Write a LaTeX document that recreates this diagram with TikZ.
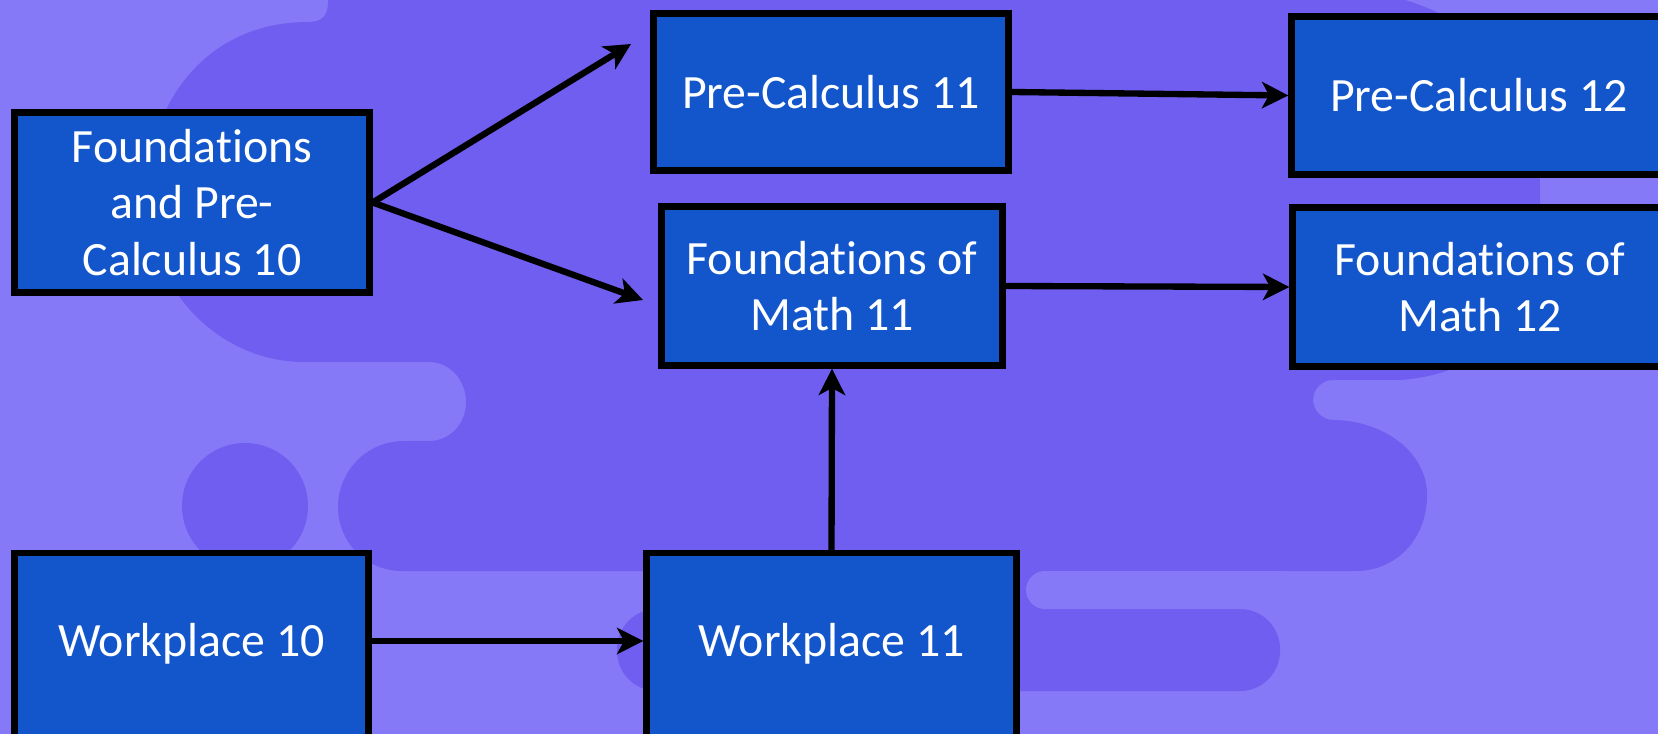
\documentclass[tikz,border=0pt]{standalone}
\usepackage{fontspec}
\setmainfont{Carlito}[Ligatures=NoCommon]
\usepackage{tikz}
\usetikzlibrary{arrows.meta}
\definecolor{bglite}{HTML}{8579F7}
\definecolor{bgdark}{HTML}{6F5EF0}
\definecolor{coursebox}{HTML}{1356CC}

\begin{document}
\begin{tikzpicture}[
  course/.style={draw=black, line width=1.8pt, fill=coursebox, text=white, align=center,
                 inner sep=0pt, font=\fontsize{13.6}{16}\selectfont},
  lowtext/.style={text depth=0.3cm},
  link/.style={-{Stealth[length=7.5pt,width=7.5pt,inset=2pt]}, line width=1.8pt}]
\useasboundingbox (0,0) rectangle (16.58,-7.34);
\clip (0,0) rectangle (16.58,-7.34);
\fill[bglite] (0,0) rectangle (16.58,-7.34);
\fill[bgdark] (3.28,0.1) -- (3.28,-0.02) .. controls (3.28,-0.16) and (3.22,-0.22) .. (3.08,-0.22)
  .. controls (2.05,-0.22) and (1.47,-1.05) .. (1.47,-1.95)
  .. controls (1.47,-2.9) and (2.2,-3.62) .. (3.04,-3.62) -- (4.29,-3.62)
  .. controls (4.5,-3.62) and (4.66,-3.8) .. (4.66,-4.02)
  .. controls (4.66,-4.24) and (4.5,-4.41) .. (4.29,-4.41) -- (4.04,-4.41)
  .. controls (3.66,-4.41) and (3.38,-4.72) .. (3.38,-5.07)
  .. controls (3.38,-5.42) and (3.66,-5.71) .. (4.02,-5.71) -- (13.56,-5.71)
  .. controls (13.95,-5.71) and (14.27,-5.4) .. (14.27,-4.95)
  .. controls (14.27,-4.5) and (13.8,-4.2) .. (13.33,-4.2)
  .. controls (13.22,-4.2) and (13.13,-4.1) .. (13.13,-4.0)
  .. controls (13.13,-3.89) and (13.22,-3.8) .. (13.33,-3.8) -- (14.0,-3.8)
  .. controls (14.8,-3.75) and (15.4,-3.2) .. (15.4,-2.5) -- (15.4,-1.9)
  .. controls (15.4,-0.8) and (14.7,0.1) .. (13.3,0.1) -- cycle;
\fill[bgdark] (2.45,-5.06) circle (0.63);
\fill[bgdark, rounded corners=0.4cm] (6.17,-6.09) rectangle (12.8,-6.91);
\fill[bgdark] (6.43,-5.6) rectangle (10.45,-6.2);
\fill[bglite, rounded corners=0.19cm] (10.26,-5.71) rectangle (13.0,-6.09);
\node[course, minimum width=3.55cm, minimum height=1.80cm] (fp10) at (1.92,-2.025) {Foundations\\and Pre-\\Calculus 10};
\node[course, minimum width=3.55cm, minimum height=1.57cm] (pc11) at (8.31,-0.92) {Pre-Calculus 11};
\node[course, minimum width=3.41cm, minimum height=1.59cm] (fm11) at (8.32,-2.86) {Foundations of\\Math 11};
\node[course, minimum width=3.75cm, minimum height=1.58cm] (pc12) at (14.79,-0.955) {Pre-Calculus 12};
\node[course, minimum width=3.75cm, minimum height=1.59cm] (fm12) at (14.80,-2.87) {Foundations of\\Math 12};
\node[course, lowtext, minimum width=3.54cm, minimum height=2.04cm] (wp10) at (1.915,-6.55) {Workplace 10};
\node[course, lowtext, minimum width=3.70cm, minimum height=2.04cm] (wp11) at (8.315,-6.55) {Workplace 11};
\coordinate (pcin) at (6.31,-0.44);
\coordinate (fmin) at (6.43,-3.00);
\draw[link] (fp10.east) -- (pcin);
\draw[link] (fp10.east) -- (fmin);
\draw[link] (pc11.east) -- (pc12.west);
\draw[link] (fm11.east) -- (fm12.west);
\draw[link] (wp11.north) -- (fm11.south);
\draw[link] ([yshift=0.14cm]wp10.east) -- ([yshift=0.14cm]wp11.west);
\end{tikzpicture}
\end{document}
